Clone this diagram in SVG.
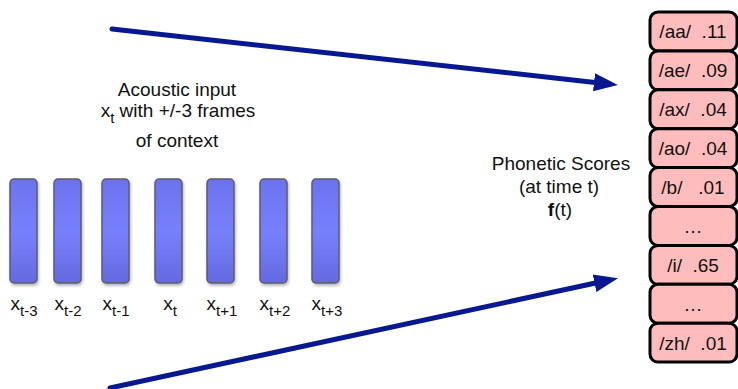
<svg xmlns="http://www.w3.org/2000/svg" width="738" height="389" viewBox="0 0 738 389">
<style>
text{font-family:"Liberation Sans",Arial,sans-serif;fill:#111}
.lbl{font-size:19px}
.bar{fill:url(#barg);stroke:#5c5c6c;stroke-width:1.5}
.box{fill:#ffbcbc;stroke:#000;stroke-width:3}
.bt{font-size:19px;text-anchor:middle}
.conn{stroke:#081890;stroke-width:5;fill:none;stroke-linecap:round}
</style>
<defs>
<linearGradient id="barg" x1="0" y1="0" x2="0" y2="1">
<stop offset="0" stop-color="#6c72ee"/>
<stop offset="0.5" stop-color="#7780fc"/>
<stop offset="1" stop-color="#646ae0"/>
</linearGradient>
<filter id="sh" x="-30%" y="-10%" width="160%" height="130%">
<feDropShadow dx="1" dy="2" stdDeviation="1.5" flood-color="#000" flood-opacity="0.3"/>
</filter>
<marker id="ah" markerUnits="userSpaceOnUse" markerWidth="26" markerHeight="20" viewBox="0 -10 26 20" refX="1" refY="0" orient="auto">
<path d="M0,-9 L24,0 L0,9 Z" fill="#081890"/>
</marker>
</defs>
<g id="bars">
<g id="bar-t-3"><rect class="bar" filter="url(#sh)" x="10" y="179" width="27" height="104" rx="4"/><text class="lbl" x="24" y="310" text-anchor="middle">x<tspan font-size="15" dy="6">t-3</tspan></text></g>
<g id="bar-t-2"><rect class="bar" filter="url(#sh)" x="54" y="179" width="27" height="104" rx="4"/><text class="lbl" x="68" y="310" text-anchor="middle">x<tspan font-size="15" dy="6">t-2</tspan></text></g>
<g id="bar-t-1"><rect class="bar" filter="url(#sh)" x="102" y="179" width="27" height="104" rx="4"/><text class="lbl" x="116" y="310" text-anchor="middle">x<tspan font-size="15" dy="6">t-1</tspan></text></g>
<g id="bar-t"><rect class="bar" filter="url(#sh)" x="155" y="179" width="27" height="104" rx="4"/><text class="lbl" x="170" y="310" text-anchor="middle">x<tspan font-size="15" dy="6">t</tspan></text></g>
<g id="bar-t+1"><rect class="bar" filter="url(#sh)" x="207" y="179" width="27" height="104" rx="4"/><text class="lbl" x="222" y="310" text-anchor="middle">x<tspan font-size="15" dy="6">t+1</tspan></text></g>
<g id="bar-t+2"><rect class="bar" filter="url(#sh)" x="260" y="179" width="27" height="104" rx="4"/><text class="lbl" x="275" y="310" text-anchor="middle">x<tspan font-size="15" dy="6">t+2</tspan></text></g>
<g id="bar-t+3"><rect class="bar" filter="url(#sh)" x="312" y="179" width="27" height="104" rx="4"/><text class="lbl" x="327" y="310" text-anchor="middle">x<tspan font-size="15" dy="6">t+3</tspan></text></g>
</g>
<g id="acoustic-label">
<text class="lbl" x="177" y="96" text-anchor="middle">Acoustic input</text>
<text class="lbl" x="178" y="117" text-anchor="middle">x<tspan font-size="15" dy="6">t</tspan><tspan dy="-6"> with +/-3 frames</tspan></text>
<text class="lbl" x="177" y="147" text-anchor="middle">of context</text>
</g>
<g id="phonetic-label">
<text class="lbl" x="561" y="170" text-anchor="middle">Phonetic Scores</text>
<text class="lbl" x="559" y="193" text-anchor="middle">(at time t)</text>
<text class="lbl" x="560" y="216" text-anchor="middle"><tspan font-weight="bold">f</tspan>(t)</text>
</g>
<g id="connectors">
<line class="conn" x1="112" y1="29" x2="595" y2="82.4" marker-end="url(#ah)"/>
<line class="conn" x1="110" y1="388" x2="595.5" y2="283" marker-end="url(#ah)"/>
</g>
<g id="scores">
<g id="s-aa"><rect class="box" x="650" y="12" width="87" height="38.9" rx="8"/><text class="bt" xml:space="preserve" x="693" y="38">/aa/  .11</text></g>
<g id="s-ae"><rect class="box" x="650" y="50.9" width="87" height="38.9" rx="8"/><text class="bt" xml:space="preserve" x="693" y="77">/ae/  .09</text></g>
<g id="s-ax"><rect class="box" x="650" y="89.8" width="87" height="38.9" rx="8"/><text class="bt" xml:space="preserve" x="693" y="116">/ax/  .04</text></g>
<g id="s-ao"><rect class="box" x="650" y="128.7" width="87" height="38.9" rx="8"/><text class="bt" xml:space="preserve" x="693" y="155">/ao/  .04</text></g>
<g id="s-b"><rect class="box" x="650" y="167.6" width="87" height="38.9" rx="8"/><text class="bt" xml:space="preserve" x="693" y="194">/b/   .01</text></g>
<g id="s-dots1"><rect class="box" x="650" y="206.5" width="87" height="38.9" rx="8"/><text class="bt" x="693" y="233">…</text></g>
<g id="s-i"><rect class="box" x="650" y="245.4" width="87" height="38.9" rx="8"/><text class="bt" xml:space="preserve" x="693" y="272">/i/  .65</text></g>
<g id="s-dots2"><rect class="box" x="650" y="284.3" width="87" height="38.9" rx="8"/><text class="bt" x="693" y="311">…</text></g>
<g id="s-zh"><rect class="box" x="650" y="323.2" width="87" height="38.9" rx="8"/><text class="bt" xml:space="preserve" x="693" y="350">/zh/  .01</text></g>
</g>
</svg>
